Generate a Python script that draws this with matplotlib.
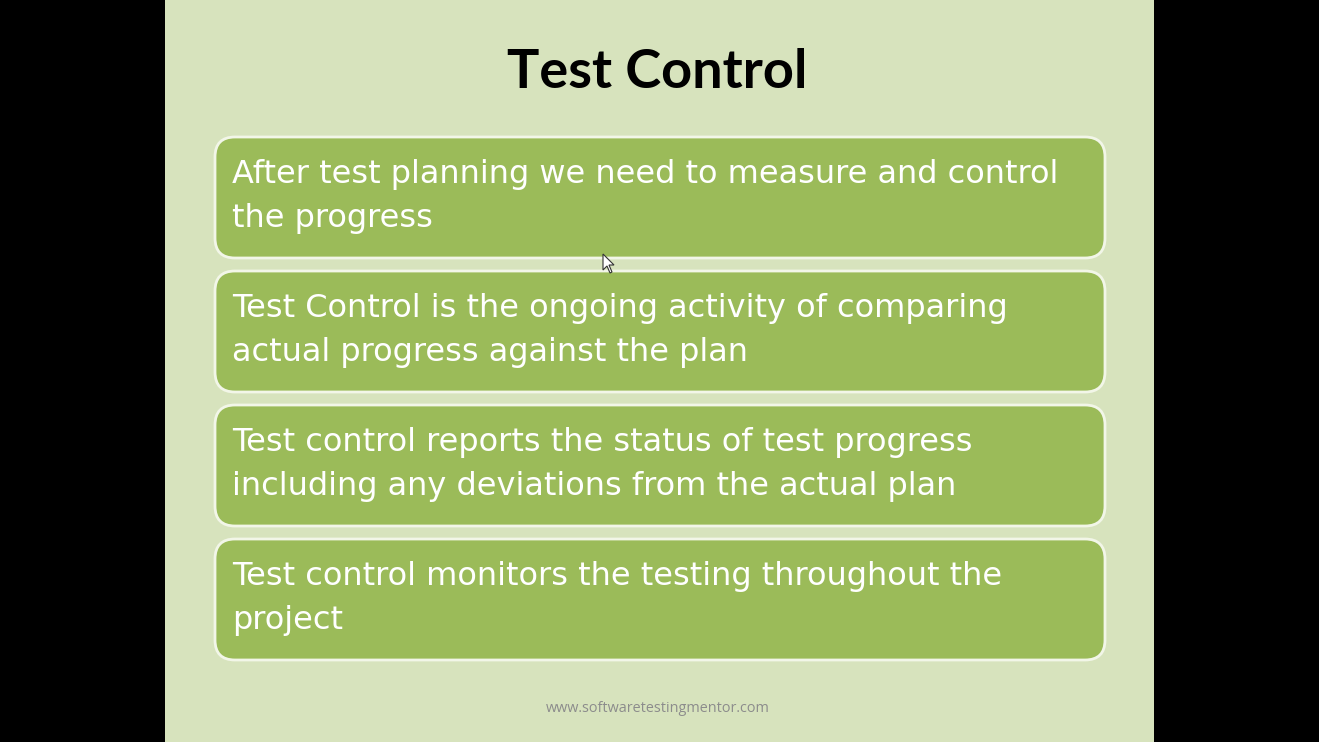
import matplotlib
matplotlib.use("Agg")
import matplotlib.pyplot as plt
from matplotlib.patches import FancyBboxPatch, Rectangle, Polygon

# slide content
title = "Test Control"
bullets = [
    ["After test planning we need to measure and control", "the progress"],
    ["Test Control is the ongoing activity of comparing", "actual progress against the plan"],
    ["Test control reports the status of test progress", "including any deviations from the actual plan"],
    ["Test control monitors the testing throughout the", "project"],
]
footer = "www.softwaretestingmentor.com"

W, H = 1319, 742
fig = plt.figure(figsize=(W / 100, H / 100), dpi=100)
fig.patch.set_facecolor("black")
ax = fig.add_axes([0, 0, 1, 1])
ax.set_xlim(0, W)
ax.set_ylim(H, 0)
ax.axis("off")

# slide background
ax.add_patch(Rectangle((165, 0), 989, H, facecolor="#d7e3bd", edgecolor="none"))

ax.text(657, 73, title, ha="center", va="center", fontsize=39, fontweight="bold",
        family="Lato", color="black")

box_top = [136, 270, 404, 538]
for top, lines in zip(box_top, bullets):
    box = FancyBboxPatch((215, top + 1), 890, 121,
                         boxstyle="round,pad=0,rounding_size=20",
                         facecolor="#9bbb59", edgecolor="#f2f6e8", linewidth=2)
    ax.add_patch(box)
    for i, line in enumerate(lines):
        ax.text(232, top + 39 + i * 43, line, ha="left", va="center",
                fontsize=23, family="DejaVu Sans", color="white")

ax.text(658, 708, footer, ha="center", va="center", fontsize=10.4,
        family="Open Sans", color="#8c8c8c")

# mouse pointer
ax.add_patch(Polygon([(603, 254), (603, 270), (607, 266), (610, 273), (612, 272),
                      (609, 265), (614, 265)], closed=True,
                     facecolor="white", edgecolor="#333333", linewidth=0.8))

fig.savefig("out.png", dpi=100, facecolor=fig.get_facecolor())
